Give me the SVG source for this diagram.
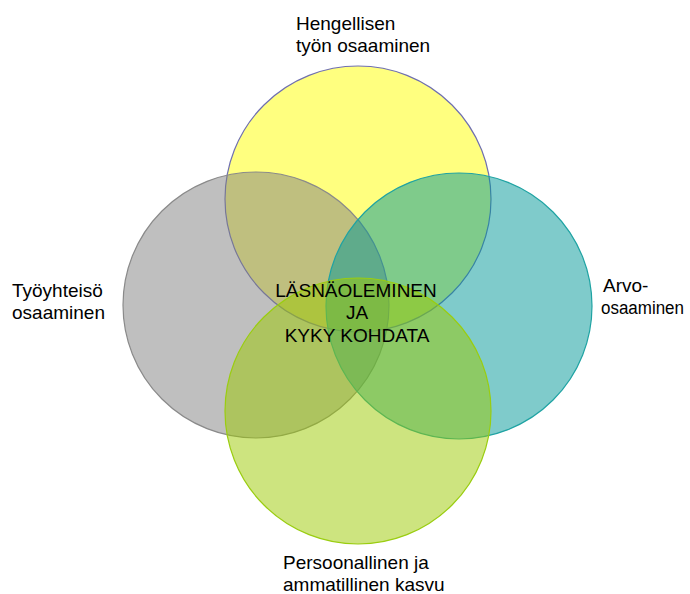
<svg xmlns="http://www.w3.org/2000/svg" width="690" height="594" viewBox="0 0 690 594">
<style>
.c{stroke-width:1.2}
.t{font-family:"Liberation Sans",Arial,sans-serif;font-size:19px;fill:#000}
</style>
<rect width="690" height="594" fill="#fff"/>
<g id="hengellisen">
<circle class="c" cx="358" cy="199" r="133" fill="#ffff00" fill-opacity="0.5" stroke="#6f6fb0"/>
<text class="t" x="296" y="30">Hengellisen</text>
<text class="t" x="296" y="52">työn osaaminen</text>
</g>
<g id="tyoyhteiso">
<circle class="c" cx="256" cy="305" r="133" fill="#808080" fill-opacity="0.5" stroke="#8a8a8a"/>
<text class="t" x="12" y="297">Työyhteisö</text>
<text class="t" x="12" y="319">osaaminen</text>
</g>
<g id="arvo">
<circle class="c" cx="459" cy="306" r="133" fill="#009797" fill-opacity="0.5" stroke="#1fa3a3"/>
<text class="t" x="603" y="292">Arvo-</text>
<text class="t" x="601" y="314" style="font-size:18px" textLength="83" lengthAdjust="spacingAndGlyphs">osaaminen</text>
</g>
<g id="persoonallinen">
<circle class="c" cx="358" cy="411" r="133" fill="#9bc900" fill-opacity="0.5" stroke="#9acd10"/>
<text class="t" x="283" y="569">Persoonallinen ja</text>
<text class="t" x="283" y="591">ammatillinen kasvu</text>
</g>
<g id="center">
<text class="t" x="356" y="297" text-anchor="middle">LÄSNÄOLEMINEN</text>
<text class="t" x="357" y="319" text-anchor="middle">JA</text>
<text class="t" x="357" y="342" text-anchor="middle">KYKY KOHDATA</text>
</g>
<g id="connectors"></g>
</svg>
